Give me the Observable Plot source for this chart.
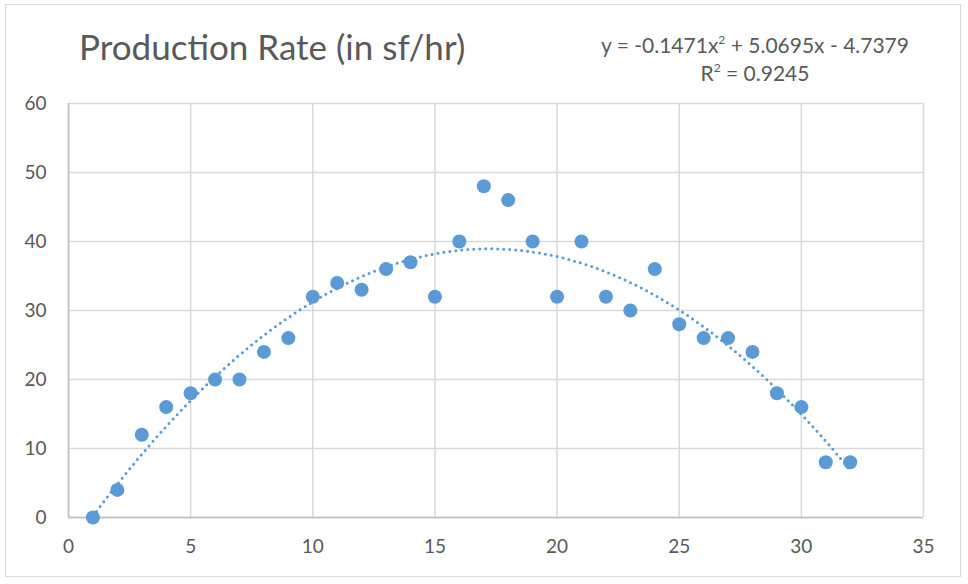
<!DOCTYPE html>
<html>
<head>
<meta charset="utf-8">
<script src="https://cdn.jsdelivr.net/npm/d3@7"></script>
<script src="https://cdn.jsdelivr.net/npm/@observablehq/plot@0.6"></script>
<style>
  body { margin: 0; background: #ffffff; }
  #wrap { position: relative; width: 968px; height: 584px; overflow: hidden; font-family: Lato, "Open Sans", sans-serif; }
  #frame { position: absolute; left: 5px; top: 4px; width: 956px; height: 573px; border: 1.5px solid #d9d9d9; box-sizing: border-box; }
  #title { position: absolute; left: 79px; top: 24px; font-size: 35px; line-height: 44px; color: #595959; white-space: nowrap; }
  #eq { position: absolute; left: 555px; width: 400px; top: 31px; font-size: 21px; color: #595959; text-align: center; line-height: 28px; white-space: nowrap; }
  #eq sup { font-size: 12px; position: relative; top: -9px; vertical-align: baseline; line-height: 0; }
  #chart { position: absolute; left: 0; top: 0; }
</style>
</head>
<body>
<div id="wrap">
  <div id="frame"></div>
  <div id="chart"></div>
  <div id="title">Production Rate (in sf/hr)</div>
  <div id="eq">y = -0.1471x<sup>2</sup> + 5.0695x - 4.7379<br>R<sup>2</sup> = 0.9245</div>
</div>
<script>
const xValues = [1,2,3,4,5,6,7,8,9,10,11,12,13,14,15,16,17,18,19,20,21,22,23,24,25,26,27,28,29,30,31,32];
const yValues = [0,4,12,16,18,20,20,24,26,32,34,33,36,37,32,40,48,46,40,32,40,32,30,36,28,26,26,24,18,16,8,8];
const xTicks = [0,5,10,15,20,25,30,35];
const yTicks = [0,10,20,30,40,50,60];
// trendline coefficients as printed on the chart: y = a x^2 + b x + c
const trendCoef = [-0.1471, 5.0695, -4.7379];

const points = xValues.map((x, i) => ({x, y: yValues[i]}));
const trend = d3.range(xValues[0], xValues[xValues.length - 1] + 0.001, 0.1)
  .map(x => ({x, y: trendCoef[0] * x * x + trendCoef[1] * x + trendCoef[2]}));

const chart = Plot.plot({
  width: 968,
  height: 584,
  marginTop: 103,
  marginBottom: 67,
  marginLeft: 68,
  marginRight: 45,
  style: {fontFamily: "Lato, 'Open Sans', sans-serif", fontSize: "19px", color: "#595959", background: "transparent"},
  x: {domain: [0, 35], ticks: xTicks, label: null},
  y: {domain: [0, 60], ticks: yTicks, label: null},
  marks: [
    Plot.gridX(xTicks, {stroke: "#d9d9d9", strokeOpacity: 1, strokeWidth: 1.5}),
    Plot.gridY(yTicks, {stroke: "#d9d9d9", strokeOpacity: 1, strokeWidth: 1.5}),
    Plot.ruleX([0], {stroke: "#bfbfbf", strokeWidth: 1.5}),
    Plot.ruleY([0], {stroke: "#bfbfbf", strokeWidth: 1.5}),
    Plot.axisX(xTicks, {tickSize: 0, tickPadding: 22, fill: "#595959", fontSize: 19}),
    Plot.axisY(yTicks, {tickSize: 0, tickPadding: 22, fill: "#595959", fontSize: 19}),
    Plot.dot(points, {x: "x", y: "y", r: 7, fill: "#5b9bd5", stroke: "none"}),
    Plot.line(trend, {x: "x", y: "y", stroke: "#5b9bd5", strokeWidth: 3, strokeDasharray: "0 6", strokeLinecap: "round"})
  ]
});
document.getElementById("chart").appendChild(chart);
</script>
</body>
</html>
